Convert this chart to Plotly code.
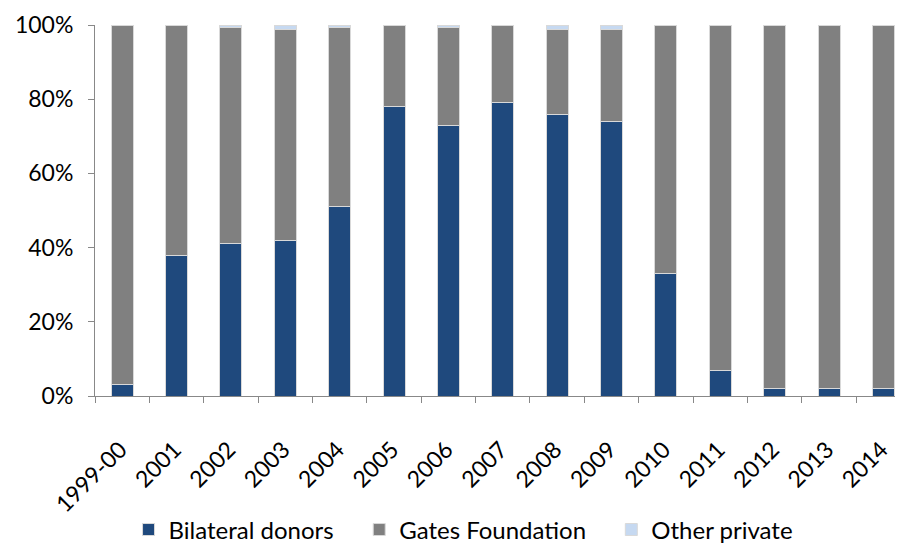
import plotly.graph_objects as go

years = ["1999-00", "2001", "2002", "2003", "2004", "2005", "2006", "2007",
         "2008", "2009", "2010", "2011", "2012", "2013", "2014"]
bilateral = [3, 38, 41, 42, 51, 78, 73, 79, 76, 74, 33, 7, 2, 2, 2]
other_private = [0, 0, 0.6, 1.2, 0.6, 0, 0.6, 0, 1.3, 1.3, 0, 0, 0, 0, 0]
gates = [100 - b - o for b, o in zip(bilateral, other_private)]

font = "Lato, Calibri, sans-serif"
line = dict(color="#d9d9d9", width=1)

fig = go.Figure()
fig.add_bar(x=years, y=bilateral, name="Bilateral donors", legend="legend",
            marker=dict(color="#1f497d", line=line))
fig.add_bar(x=years, y=gates, name="Gates Foundation", legend="legend2",
            marker=dict(color="#808080", line=line))
fig.add_bar(x=years, y=other_private, name="Other private", legend="legend3",
            marker=dict(color="#c6d9f1", line=line))

leg = dict(orientation="h", xanchor="left", y=-0.361, yanchor="middle",
           font=dict(size=24), itemwidth=30)

# page body adds 8px offset, so margins are trimmed to compensate
fig.update_layout(
    barmode="stack",
    bargap=0.595,
    width=903, height=545,
    margin=dict(l=87, r=8, t=17, b=157, autoexpand=False),
    plot_bgcolor="white",
    paper_bgcolor="white",
    font=dict(family=font, size=23, color="black"),
    showlegend=True,
    legend=dict(leg, x=0.0415),
    legend2=dict(leg, x=0.327),
    legend3=dict(leg, x=0.639),
)
fig.update_xaxes(
    type="category",
    range=[-0.5, 14.36],
    tickangle=-45,
    automargin=False,
    showline=True, linecolor="#888888", linewidth=1,
    ticks="outside", tickson="boundaries", ticklen=6, tickcolor="#888888",
    ticklabelstandoff=30, ticklabelshift=-2,
    showgrid=False,
    tickfont=dict(size=23),
)
fig.update_yaxes(
    range=[0, 100],
    tickvals=[0, 20, 40, 60, 80, 100],
    ticktext=["0%", "20%", "40%", "60%", "80%", "100%"],
    automargin=False,
    showline=True, linecolor="#888888", linewidth=1,
    ticks="outside", ticklen=6, tickcolor="#888888",
    ticklabelstandoff=10,
    showgrid=False, zeroline=False,
    tickfont=dict(size=23),
)

fig.write_html("out.html")
